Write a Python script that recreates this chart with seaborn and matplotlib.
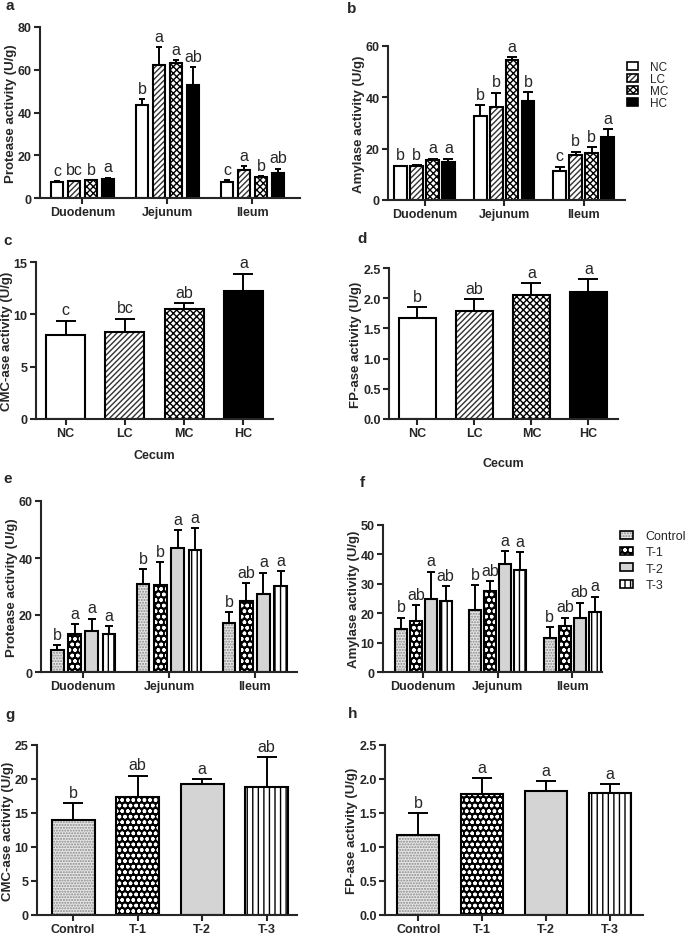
import matplotlib
matplotlib.use("Agg")
import matplotlib.pyplot as plt
import matplotlib.patches as mpatches
import pandas as pd
import seaborn as sns

sns.set_style("ticks")
plt.rcParams["font.family"] = ["Liberation Sans", "DejaVu Sans"]
plt.rcParams["font.weight"] = "bold"
plt.rcParams["axes.labelweight"] = "bold"
plt.rcParams["hatch.linewidth"] = 1.0

sites = ["Duodenum", "Jejunum", "Ileum"]
diet_groups = ["NC", "LC", "MC", "HC"]
trt_groups = ["Control", "T-1", "T-2", "T-3"]

# (a) protease, diet groups - one row per group, over sites
prot_diet_mean = [[7.6, 43.4, 7.5], [7.8, 62.1, 13.3], [8.2, 63.3, 9.8], [9.0, 52.7, 11.9]]
prot_diet_se = [[0.3, 3.0, 0.9], [0.3, 8.6, 1.5], [0.3, 1.1, 0.4], [0.5, 8.6, 1.8]]
prot_diet_sig = [["c", "b", "c"], ["bc", "a", "a"], ["b", "a", "b"], ["a", "ab", "ab"]]

# (b) amylase, diet groups
amy_diet_mean = [[13.2, 32.7, 11.2], [13.3, 36.2, 17.4], [15.6, 54.5, 18.4], [14.9, 38.6, 24.7]]
amy_diet_se = [[0.2, 4.2, 1.8], [0.2, 5.6, 1.4], [0.5, 1.3, 2.2], [1.2, 3.5, 2.8]]
amy_diet_sig = [["b", "b", "c"], ["b", "b", "b"], ["a", "a", "b"], ["a", "b", "a"]]

# (c) CMC-ase, (d) FP-ase in cecum, diet groups
cmc_diet_mean = [8.04, 8.3, 10.5, 12.25]
cmc_diet_se = [1.36, 1.3, 0.55, 1.65]
cmc_diet_sig = ["c", "bc", "ab", "a"]
fp_diet_mean = [1.68, 1.78, 2.06, 2.11]
fp_diet_se = [0.17, 0.21, 0.19, 0.20]
fp_diet_sig = ["b", "ab", "a", "a"]

# (e) protease, treatments
prot_trt_mean = [[7.6, 30.8, 17.1], [13.5, 30.4, 24.8], [14.5, 43.6, 27.4], [13.5, 42.7, 30.2]]
prot_trt_se = [[1.8, 5.2, 4.0], [3.3, 8.2, 6.3], [4.2, 6.1, 7.5], [2.6, 7.9, 5.1]]
prot_trt_sig = [["b", "b", "b"], ["a", "b", "ab"], ["a", "a", "a"], ["a", "a", "a"]]

# (f) amylase, treatments
amy_trt_mean = [[14.5, 21.0, 11.7], [17.4, 27.6, 15.5], [24.8, 36.6, 18.5], [24.2, 34.8, 20.5]]
amy_trt_se = [[4.0, 8.5, 3.6], [5.3, 3.4, 3.0], [9.3, 4.6, 5.1], [5.1, 6.1, 5.1]]
amy_trt_sig = [["b", "b", "b"], ["ab", "ab", "ab"], ["a", "a", "ab"], ["ab", "a", "a"]]

# (g) CMC-ase, (h) FP-ase, treatments
cmc_trt_mean = [14.0, 17.4, 19.2, 18.8]
cmc_trt_se = [2.5, 3.1, 0.8, 4.4]
cmc_trt_sig = ["b", "ab", "a", "ab"]
fp_trt_mean = [1.18, 1.78, 1.83, 1.79]
fp_trt_se = [0.32, 0.23, 0.14, 0.13]
fp_trt_sig = ["b", "a", "a", "a"]

# fill, hatch, hatch colour
bar_style = {
    "NC": ("white", "", "black"),
    "LC": ("white", "//////", "#333333"),
    "MC": ("white", "xxxxx", "black"),
    "HC": ("black", "", "black"),
    "Control": ("#e6e6e6", "......", "#8a8a8a"),
    "T-1": ("black", "ooo", "white"),
    "T-2": ("#d4d4d4", "", "black"),
    "T-3": ("white", "|||", "black"),
}

W, H = 685, 937


def box(left, top, right, bottom):
    return [left / W, 1 - bottom / H, (right - left) / W, (bottom - top) / H]


def style_bar(ax, rect, name):
    face, hatch, hcolor = bar_style[name]
    rect.set_facecolor(face)
    rect.set_hatch(hatch)
    rect.set_edgecolor(hcolor)
    rect.set_linewidth(0)
    ax.add_patch(mpatches.Rectangle(rect.get_xy(), rect.get_width(), rect.get_height(),
                                    fill=False, edgecolor="black", linewidth=1.5,
                                    zorder=rect.get_zorder() + 0.1))


def err_and_letter(ax, rect, se, letter, cap):
    xc = rect.get_x() + rect.get_width() / 2
    top = rect.get_height()
    ax.errorbar(xc, top, yerr=[[0], [se]], fmt="none", ecolor="black",
                elinewidth=1.4, capsize=cap, capthick=1.4)
    ax.annotate(letter, (xc, top + se), xytext=(0, 4.5), textcoords="offset points",
                ha="center", va="baseline", fontsize=11.5, fontweight="normal",
                annotation_clip=False)


def grouped_panel(ax, groups, means, ses, sigs, gap, cap):
    rows = []
    for g, vals in zip(groups, means):
        for s, v in zip(sites, vals):
            rows.append({"site": s, "group": g, "value": v})
    df = pd.DataFrame(rows)
    sns.barplot(data=df, x="site", y="value", hue="group", order=sites,
                hue_order=groups, errorbar=None, width=0.8, gap=gap,
                legend=False, ax=ax)
    for gi, cont in enumerate(list(ax.containers)):
        for si, rect in enumerate(cont):
            style_bar(ax, rect, groups[gi])
            err_and_letter(ax, rect, ses[gi][si], sigs[gi][si], cap)


def single_panel(ax, groups, means, ses, sigs, width, cap):
    df = pd.DataFrame({"group": groups, "value": means})
    sns.barplot(data=df, x="group", y="value", order=groups, color="white",
                errorbar=None, width=width, ax=ax)
    for i, rect in enumerate(ax.containers[0]):
        style_bar(ax, rect, groups[i])
        err_and_letter(ax, rect, ses[i], sigs[i], cap)


def finish(ax, pos, xlim, ylim, yticks, ylabel, xlabel="", xlabelpad=4):
    ax.set_position(box(*pos))
    ax.set_xlim(xlim)
    ax.set_ylim(ylim)
    ax.set_yticks(yticks)
    ax.set_ylabel(ylabel, fontsize=9.5, labelpad=0.5)
    ax.set_xlabel(xlabel, fontsize=9, labelpad=xlabelpad)
    sns.despine(ax=ax)
    for s in ["left", "bottom"]:
        ax.spines[s].set_linewidth(1.5)
    ax.tick_params(width=1.5, length=4, labelsize=9, pad=2)
    ax.tick_params(axis="x", pad=1.5)


def legend(fig, groups, anchor, size, spacing, hlen, htxt):
    handles = []
    for g in groups:
        face, hatch, hcolor = bar_style[g]
        handles.append((mpatches.Patch(facecolor=face, hatch=hatch, edgecolor=hcolor, linewidth=0),
                        mpatches.Patch(fill=False, edgecolor="black", linewidth=1.2)))
    fig.legend(handles, groups, loc="upper left",
               bbox_to_anchor=(anchor[0] / W, 1 - anchor[1] / H),
               frameon=False, prop={"size": size, "weight": "normal"},
               handlelength=hlen, handleheight=0.6, handletextpad=htxt,
               labelspacing=spacing, borderpad=0, borderaxespad=0)


fig = plt.figure(figsize=(6.85, 9.37), dpi=100)
axes = [fig.add_subplot(4, 2, i + 1) for i in range(8)]

grouped_panel(axes[0], diet_groups, prot_diet_mean, prot_diet_se, prot_diet_sig, 0.3, 2.5)
finish(axes[0], (40, 28, 300, 199), (-0.5, 2.56), (0, 80), [0, 20, 40, 60, 80],
       "Protease activity (U/g)")

grouped_panel(axes[1], diet_groups, amy_diet_mean, amy_diet_se, amy_diet_sig, 0.2, 3.5)
finish(axes[1], (388, 47, 625, 201), (-0.46, 2.52), (0, 60), [0, 20, 40, 60],
       "Amylase activity (U/g)")

single_panel(axes[2], diet_groups, cmc_diet_mean, cmc_diet_se, cmc_diet_sig, 0.66, 7)
finish(axes[2], (36, 263, 273, 420), (-0.5, 3.5), (0, 15), [0, 5, 10, 15],
       "CMC-ase activity (U/g)", "Cecum", 7.5)

single_panel(axes[3], diet_groups, fp_diet_mean, fp_diet_se, fp_diet_sig, 0.66, 7)
finish(axes[3], (389, 269, 618, 420), (-0.5, 3.52), (0, 2.5),
       [0.0, 0.5, 1.0, 1.5, 2.0, 2.5], "FP-ase activity (U/g)", "Cecum", 13)
axes[3].set_yticklabels(["0.0", "0.5", "1.0", "1.5", "2.0", "2.5"])

grouped_panel(axes[4], trt_groups, prot_trt_mean, prot_trt_se, prot_trt_sig, 0.27, 3)
finish(axes[4], (41, 502, 297, 673), (-0.49, 2.49), (0, 60), [0, 20, 40, 60],
       "Protease activity (U/g)")

grouped_panel(axes[5], trt_groups, amy_trt_mean, amy_trt_se, amy_trt_sig, 0.2, 3)
finish(axes[5], (383, 526, 602, 673), (-0.54, 2.4), (0, 50), [0, 10, 20, 30, 40, 50],
       "Amylase activity (U/g)")

single_panel(axes[6], trt_groups, cmc_trt_mean, cmc_trt_se, cmc_trt_sig, 0.67, 7)
finish(axes[6], (37, 746, 297, 916), (-0.56, 3.47), (0, 25), [0, 5, 10, 15, 20, 25],
       "CMC-ase activity (U/g)")

single_panel(axes[7], trt_groups, fp_trt_mean, fp_trt_se, fp_trt_sig, 0.65, 7)
finish(axes[7], (385, 746, 643, 916), (-0.52, 3.52), (0, 2.5),
       [0.0, 0.5, 1.0, 1.5, 2.0, 2.5], "FP-ase activity (U/g)")
axes[7].set_yticklabels(["0.0", "0.5", "1.0", "1.5", "2.0", "2.5"])

legend(fig, diet_groups, (627, 62), 8.5, 0.0, 0.95, 1.0)
legend(fig, trt_groups, (620, 531), 9, 0.35, 1.05, 1.0)

# panel letters
for lab, x, y in [("a", 5, 10), ("b", 347, 13), ("c", 3, 245), ("d", 357, 243),
                  ("e", 3, 483), ("f", 360, 487), ("g", 5, 719), ("h", 348, 718)]:
    fig.text(x / W, 1 - y / H, lab, fontsize=11, fontweight="bold", va="baseline")

fig.savefig("out.png", dpi=100)
